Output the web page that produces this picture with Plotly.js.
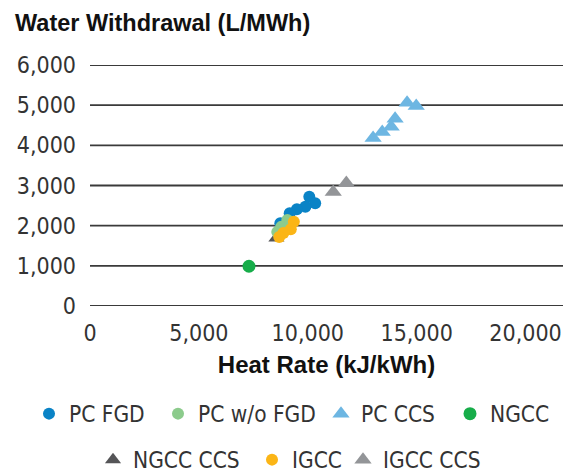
<!DOCTYPE html>
<html>
<head>
<meta charset="utf-8">
<script src="https://cdn.plot.ly/plotly-3.0.1.min.js"></script>
<style>html,body{margin:0;padding:0;background:#fff;}#chart{width:574px;height:472px;}</style>
</head>
<body>
<div id="chart"></div>
<script>
// Data (Heat Rate kJ/kWh, Water Withdrawal L/MWh)
const pcFgdX = [10070, 10340, 9890, 9500, 9170, 8740];
const pcFgdY = [2720, 2560, 2470, 2410, 2310, 2060];
const pcNoFgdX = [9060, 8780, 8600];
const pcNoFgdY = [2140, 1970, 1840];
const pcCcsX = [14560, 14980, 14010, 13830, 13420, 13000];
const pcCcsY = [5060, 4980, 4660, 4460, 4330, 4180];
const ngccX = [7300];
const ngccY = [990];
const ngccCcsX = [8560];
const ngccCcsY = [1690];
const igccX = [9360, 9220, 8880, 8690];
const igccY = [2100, 1910, 1820, 1720];
const igccCcsX = [11170, 11770];
const igccCcsY = [2840, 3060];

const xTicks = [0, 5000, 10000, 15000, 20000];
const yTicks = [0, 1000, 2000, 3000, 4000, 5000, 6000];

const tickFont = 'DejaVu Sans Condensed, Liberation Sans, Arial, sans-serif';
const titleFont = 'Liberation Sans, Arial, sans-serif';
const legFontSize = 22.5;

// legend placement: [legend id, symbol centre x px, row centre y px]
const legendSpots = {
  'PC FGD': ['legend', 49, 414],
  'PC w/o FGD': ['legend2', 178, 414],
  'PC CCS': ['legend3', 341, 414],
  'NGCC': ['legend4', 470, 414],
  'NGCC CCS': ['legend5', 113, 460],
  'IGCC': ['legend6', 272, 460],
  'IGCC CCS': ['legend7', 363, 460]
};

function tr(name, x, y, color, symbol, size) {
  return {
    type: 'scatter', mode: 'markers', name: name, x: x, y: y,
    legend: legendSpots[name][0],
    marker: {color: color, symbol: symbol, size: size, line: {width: 0}},
    hoverinfo: 'x+y+name'
  };
}

const data = [
  tr('NGCC CCS', ngccCcsX, ngccCcsY, '#555557', 'triangle-up', 14),
  tr('PC FGD', pcFgdX, pcFgdY, '#0a83c6', 'circle', 12),
  tr('PC w/o FGD', pcNoFgdX, pcNoFgdY, '#8ccb8c', 'circle', 12),
  tr('PC CCS', pcCcsX, pcCcsY, '#6db6e2', 'triangle-up', 15),
  tr('NGCC', ngccX, ngccY, '#17ad4a', 'circle', 13),
  tr('IGCC', igccX, igccY, '#fbb516', 'circle', 12),
  tr('IGCC CCS', igccCcsX, igccCcsY, '#939598', 'triangle-up', 15)
];

// horizontal gridlines drawn at each y tick value, through the y axis scale
const gridShapes = yTicks.map(function (v) {
  return {
    type: 'line', xref: 'paper', yref: 'y', x0: 0, x1: 1, y0: v, y1: v,
    layer: 'below', line: {color: '#3a3a3a', width: 1.8}
  };
});

const layout = {
  width: 574, height: 472, autosize: false,
  margin: {l: 90, r: 11, t: 65, b: 166, pad: 0},
  paper_bgcolor: '#ffffff', plot_bgcolor: '#ffffff',
  font: {family: tickFont, color: '#333333', size: 22},
  title: {
    text: 'Water Withdrawal (L/MWh)',
    font: {family: titleFont, size: 23.5, weight: 'bold', color: '#111111'},
    x: 15 / 574, xanchor: 'left', xref: 'container',
    y: 1 - 23 / 472, yanchor: 'middle', yref: 'container'
  },
  xaxis: {
    range: [0, 21720], tickvals: xTicks, tickformat: ',',
    showgrid: false, zeroline: false, showline: false, ticks: '',
    ticklabelstandoff: 11,
    tickfont: {family: tickFont, size: 23, color: '#333333'},
    title: {text: 'Heat Rate (kJ/kWh)', font: {family: titleFont, size: 24, weight: 'bold', color: '#111111'}, standoff: 11},
    fixedrange: true
  },
  yaxis: {
    range: [0, 6000], tickvals: yTicks, tickformat: ',',
    showgrid: false, zeroline: false, showline: false, ticks: '',
    ticklabelstandoff: 13,
    tickfont: {family: tickFont, size: 23, color: '#333333'},
    fixedrange: true
  },
  shapes: gridShapes,
  showlegend: true
};

Object.keys(legendSpots).forEach(function (name) {
  const s = legendSpots[name];
  layout[s[0]] = {
    orientation: 'h', xref: 'container', yref: 'container',
    x: (s[1] - 20) / 574, xanchor: 'left',
    y: 1 - s[2] / 472, yanchor: 'middle',
    font: {family: tickFont, size: legFontSize, color: '#333333'},
    bgcolor: 'rgba(0,0,0,0)', borderwidth: 0,
    itemclick: false, itemdoubleclick: false
  };
});

Plotly.newPlot('chart', data, layout, {displayModeBar: false, staticPlot: true});
</script>
</body>
</html>
